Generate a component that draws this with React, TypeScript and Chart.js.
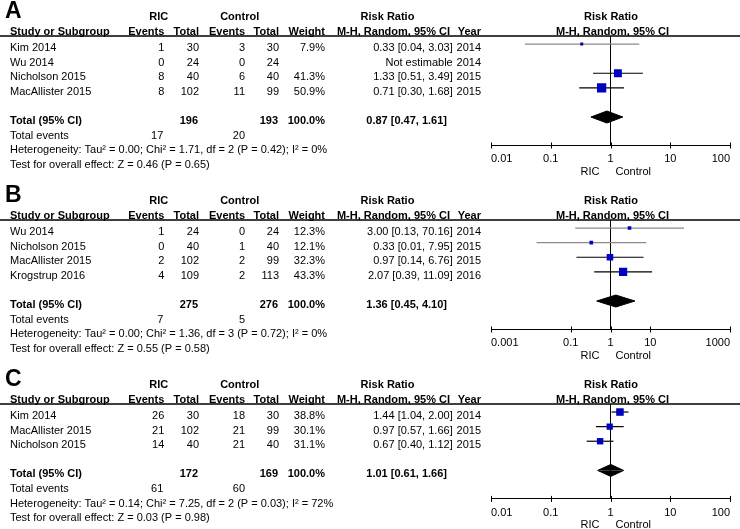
import React, { useEffect, useRef } from "react";
import { Chart, registerables } from "chart.js";

Chart.register(...registerables);

// ---------------- Panel A ----------------
const studiesA = ["Kim 2014", "Wu 2014", "Nicholson 2015", "MacAllister 2015"];
const ricEventsA = [1, 0, 8, 8];
const ricTotalA = [30, 24, 40, 102];
const ctlEventsA = [3, 0, 6, 11];
const ctlTotalA = [30, 24, 40, 99];
const weightA = [7.9, null, 41.3, 50.9];
const rrA = [0.33, null, 1.33, 0.71];
const lowerA = [0.037, null, 0.51, 0.3];
const upperA = [3.03, null, 3.49, 1.68];
const yearA = [2014, 2014, 2015, 2015];
const totalsA = [196, 193];
const totalEventsA = [17, 20];
const pooledA = [0.87, 0.47, 1.61];
const hetA = "Heterogeneity: Tau² = 0.00; Chi² = 1.71, df = 2 (P = 0.42); I² = 0%";
const overallA = "Test for overall effect: Z = 0.46 (P = 0.65)";
const ticksA = [0.01, 0.1, 1, 10, 100];

// ---------------- Panel B ----------------
const studiesB = ["Wu 2014", "Nicholson 2015", "MacAllister 2015", "Krogstrup 2016"];
const ricEventsB = [1, 0, 2, 4];
const ricTotalB = [24, 40, 102, 109];
const ctlEventsB = [0, 1, 2, 2];
const ctlTotalB = [24, 40, 99, 113];
const weightB = [12.3, 12.1, 32.3, 43.3];
const rrB = [3.0, 0.33, 0.97, 2.07];
const lowerB = [0.13, 0.014, 0.14, 0.39];
const upperB = [70.16, 7.95, 6.76, 11.09];
const yearB = [2014, 2015, 2015, 2016];
const totalsB = [275, 276];
const totalEventsB = [7, 5];
const pooledB = [1.36, 0.45, 4.1];
const hetB = "Heterogeneity: Tau² = 0.00; Chi² = 1.36, df = 3 (P = 0.72); I² = 0%";
const overallB = "Test for overall effect: Z = 0.55 (P = 0.58)";
const ticksB = [0.001, 0.1, 1, 10, 1000];

// ---------------- Panel C ----------------
const studiesC = ["Kim 2014", "MacAllister 2015", "Nicholson 2015"];
const ricEventsC = [26, 21, 14];
const ricTotalC = [30, 102, 40];
const ctlEventsC = [18, 21, 21];
const ctlTotalC = [30, 99, 40];
const weightC = [38.8, 30.1, 31.1];
const rrC = [1.44, 0.97, 0.67];
const lowerC = [1.04, 0.57, 0.4];
const upperC = [2.0, 1.66, 1.12];
const yearC = [2014, 2015, 2015];
const totalsC = [172, 169];
const totalEventsC = [61, 60];
const pooledC = [1.01, 0.61, 1.66];
const hetC = "Heterogeneity: Tau² = 0.14; Chi² = 7.25, df = 2 (P = 0.03); I² = 72%";
const overallC = "Test for overall effect: Z = 0.03 (P = 0.98)";
const ticksC = [0.01, 0.1, 1, 10, 100];

// ---------------- layout / style ----------------
const W = 740;
const H = 529;
const HEADER_Y = [36, 220, 404];
const ROW_H = 14.6;
const PLOT_LEFT = 491;
const PLOT_RIGHT = 730;
const XH = 20;
const FAMILY = '"Liberation Sans", Arial, Helvetica, sans-serif';
const BLUE = "#0000C0";
const GRAY = "#8a8a8a";
const DIAMOND_HALF = 0.41;

const panels = [
  {
    letter: "A", studies: studiesA, ricE: ricEventsA, ricT: ricTotalA, ctlE: ctlEventsA, ctlT: ctlTotalA,
    weight: weightA, rr: rrA, lo: lowerA, hi: upperA, year: yearA, totals: totalsA, events: totalEventsA,
    pooled: pooledA, het: hetA, overall: overallA, ticks: ticksA,
  },
  {
    letter: "B", studies: studiesB, ricE: ricEventsB, ricT: ricTotalB, ctlE: ctlEventsB, ctlT: ctlTotalB,
    weight: weightB, rr: rrB, lo: lowerB, hi: upperB, year: yearB, totals: totalsB, events: totalEventsB,
    pooled: pooledB, het: hetB, overall: overallB, ticks: ticksB,
  },
  {
    letter: "C", studies: studiesC, ricE: ricEventsC, ricT: ricTotalC, ctlE: ctlEventsC, ctlT: ctlTotalC,
    weight: weightC, rr: rrC, lo: lowerC, hi: upperC, year: yearC, totals: totalsC, events: totalEventsC,
    pooled: pooledC, het: hetC, overall: overallC, ticks: ticksC,
  },
];

const squareSide = (w: number) => 1.84 + 0.1465 * w;
const fmtCI = (r: number, l: number, h: number) => `${r.toFixed(2)} [${l.toFixed(2)}, ${h.toFixed(2)}]`;

function makeChart(canvas: HTMLCanvasElement, p: any, headerY: number) {
  const n = p.studies.length;
  const yMin = -0.55;
  const yMax = n + 2.95;
  const areaH = (yMax - yMin) * ROW_H;
  const axisY = headerY + areaH;
  const totalRow = n + 1;

  const datasets: any[] = [];
  const squares: any[] = [];
  p.studies.forEach((_: string, i: number) => {
    if (p.rr[i] != null) squares.push({ x: p.rr[i], y: i, w: p.weight[i] });
  });
  datasets.push({
    data: squares,
    showLine: false,
    pointStyle: "rect",
    pointRadius: (ctx: any) => (ctx.raw ? squareSide(ctx.raw.w) / Math.SQRT2 : 0),
    backgroundColor: BLUE,
    borderColor: BLUE,
    pointBorderWidth: 0,
    borderWidth: 0,
  });
  const [pr, pl, ph] = p.pooled;
  datasets.push({
    data: [{ x: pl, y: totalRow }, { x: pr, y: totalRow - DIAMOND_HALF }, { x: ph, y: totalRow }],
    showLine: true, pointRadius: 0, borderColor: "#000", borderWidth: 1,
    backgroundColor: "#000", fill: { value: totalRow },
  });
  datasets.push({
    data: [{ x: pl, y: totalRow }, { x: pr, y: totalRow + DIAMOND_HALF }, { x: ph, y: totalRow }],
    showLine: true, pointRadius: 0, borderColor: "#000", borderWidth: 1,
    backgroundColor: "#000", fill: { value: totalRow },
  });
  p.studies.forEach((_: string, i: number) => {
    if (p.rr[i] == null) return;
    datasets.push({
      data: [{ x: p.lo[i], y: i }, { x: p.hi[i], y: i }],
      showLine: true, pointRadius: 0, borderWidth: 1.2,
      borderColor: p.weight[i] < 20 ? GRAY : "#000",
    });
  });
  datasets.push({
    data: [{ x: 1, y: yMin }, { x: 1, y: yMax }],
    showLine: true, pointRadius: 0, borderWidth: 1, borderColor: "#000",
  });

  const textPlugin = {
    id: "forestText" + p.letter,
    afterDraw(chart: any) {
      const ctx = chart.ctx as CanvasRenderingContext2D;
      const ys = chart.scales.y;
      const xs = chart.scales.x;
      const area = chart.chartArea;
      const rowBase = (v: number) => ys.getPixelForValue(v) + 7;
      const t = (s: string, x: number, y: number, align: CanvasTextAlign, bold = false, size = 11) => {
        ctx.font = `${bold ? "bold " : ""}${size}px ${FAMILY}`;
        ctx.textAlign = align;
        ctx.textBaseline = "alphabetic";
        ctx.fillStyle = "#000";
        ctx.fillText(s, x, y);
      };
      ctx.save();
      // header rule
      ctx.fillStyle = "#000";
      ctx.fillRect(0, headerY - 0.75, W, 1.5);
      // panel letter
      t(p.letter, 5, headerY - 18, "left", true, 23);
      // header rows
      const h1 = headerY - 16;
      const h2 = headerY - 1.5;
      t("RIC", 158.7, h1, "center", true);
      t("Control", 239.7, h1, "center", true);
      t("Risk Ratio", 387.5, h1, "center", true);
      const mid = (area.left + area.right) / 2;
      t("Risk Ratio", mid + 0.5, h1, "center", true);
      t("Study or Subgroup", 10, h2, "left", true);
      t("Events", 164.3, h2, "right", true);
      t("Total", 199, h2, "right", true);
      t("Events", 245, h2, "right", true);
      t("Total", 279, h2, "right", true);
      t("Weight", 325, h2, "right", true);
      t("M-H, Random, 95% CI", 450, h2, "right", true);
      t("Year", 481, h2, "right", true);
      t("M-H, Random, 95% CI", mid + 2, h2, "center", true);
      // study rows
      p.studies.forEach((s: string, i: number) => {
        const y = rowBase(i);
        t(s, 10, y, "left");
        t(String(p.ricE[i]), 164.3, y, "right");
        t(String(p.ricT[i]), 199, y, "right");
        t(String(p.ctlE[i]), 245, y, "right");
        t(String(p.ctlT[i]), 279, y, "right");
        if (p.weight[i] != null) t(`${p.weight[i].toFixed(1)}%`, 325, y, "right");
        t(p.rr[i] != null ? fmtCI(p.rr[i], p.lo[i], p.hi[i]) : "Not estimable", 452.7, y, "right");
        t(String(p.year[i]), 481, y, "right");
      });
      // total row
      const ty = rowBase(n + 1);
      t("Total (95% CI)", 10, ty, "left", true);
      t(String(p.totals[0]), 198, ty, "right", true);
      t(String(p.totals[1]), 278, ty, "right", true);
      t("100.0%", 325, ty, "right", true);
      t(fmtCI(pr, pl, ph), 447, ty, "right", true);
      const ey = rowBase(n + 2);
      t("Total events", 10, ey, "left");
      t(String(p.events[0]), 163.3, ey, "right");
      t(String(p.events[1]), 245, ey, "right");
      t(p.het, 10, rowBase(n + 3), "left");
      t(p.overall, 10, rowBase(n + 4), "left");
      // tick marks crossing the axis
      ctx.strokeStyle = "#000";
      ctx.lineWidth = 1;
      p.ticks.forEach((v: number) => {
        const x = Math.round(xs.getPixelForValue(v)) + 0.5;
        ctx.beginPath();
        ctx.moveTo(x, area.bottom - 3);
        ctx.lineTo(x, area.bottom + 3);
        ctx.stroke();
      });
      // direction labels
      const x1 = xs.getPixelForValue(1);
      t("RIC", x1 - 11, area.bottom + 29, "right");
      t("Control", x1 + 5, area.bottom + 29, "left");
      ctx.restore();
    },
  };

  return new Chart(canvas, {
    type: "scatter",
    data: { datasets },
    options: {
      responsive: false,
      animation: false,
      devicePixelRatio: 1,
      events: [],
      layout: {
        padding: { top: headerY, left: PLOT_LEFT, right: W - PLOT_RIGHT, bottom: H - axisY - XH },
      },
      plugins: { legend: { display: false }, tooltip: { enabled: false }, title: { display: false } },
      scales: {
        x: {
          type: "logarithmic",
          position: "bottom",
          min: p.ticks[0],
          max: p.ticks[p.ticks.length - 1],
          afterBuildTicks: (s: any) => {
            s.ticks = p.ticks.map((v: number) => ({ value: v }));
          },
          afterFit: (s: any) => {
            s.height = XH;
            s.paddingLeft = 0;
            s.paddingRight = 0;
          },
          ticks: {
            autoSkip: false,
            maxRotation: 0,
            minRotation: 0,
            align: "inner",
            padding: 7,
            color: "#000",
            font: { family: FAMILY, size: 11 },
            callback: (v: any) => String(v),
          },
          grid: { display: false, drawTicks: false },
          border: { display: true, color: "#000", width: 1 },
        },
        y: { type: "linear", min: yMin, max: yMax, reverse: true, display: false },
      },
    },
    plugins: [textPlugin],
  } as any);
}

function Panel({ index }: { index: number }) {
  const ref = useRef<HTMLCanvasElement | null>(null);
  useEffect(() => {
    if (!ref.current) return;
    const chart = makeChart(ref.current, panels[index], HEADER_Y[index]);
    return () => chart.destroy();
  }, [index]);
  return (
    <canvas
      ref={ref}
      width={W}
      height={H}
      style={{ position: "absolute", left: 0, top: 0, width: W, height: H }}
    />
  );
}

export default function App() {
  useEffect(() => {
    document.body.style.margin = "0";
    document.body.style.background = "#fff";
  }, []);
  return (
    <div style={{ position: "absolute", left: 0, top: 0, width: W, height: H, background: "#fff" }}>
      <Panel index={0} />
      <Panel index={1} />
      <Panel index={2} />
    </div>
  );
}
